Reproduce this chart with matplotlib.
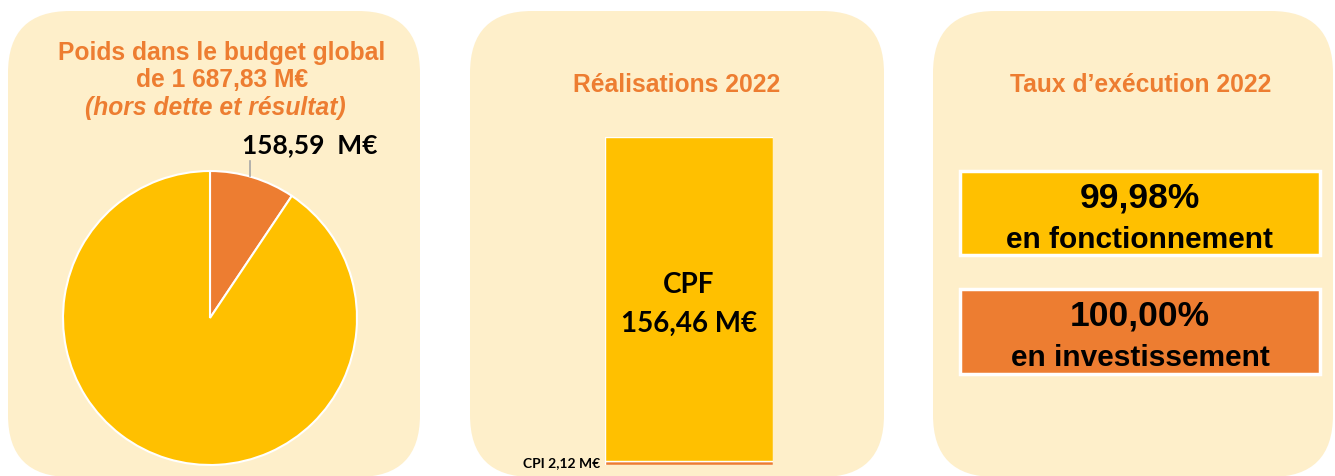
import matplotlib.pyplot as plt
from matplotlib.patches import FancyBboxPatch, Rectangle
import numpy as np

# ===================== données =====================
budget_global = 1687.83
pie_labels = ["Poids", "Reste"]
pie_values = [158.59, budget_global - 158.59]

bar_labels = ["CPI", "CPF"]
bar_values = [2.12, 156.46]

taux_labels = ["en fonctionnement", "en investissement"]
taux_values = [99.98, 100.00]

# ===================== style =====================
W, H = 1335, 477
YELLOW = "#FFC000"
ORANGE = "#ED7D31"
PANEL = "#FEEFCA"
TITLE_FONT = "Liberation Sans"
LABEL_FONT = "Lato"
TITLE_SIZE = 17.7


def fr(v, nd=2):
    return f"{v:.{nd}f}".replace(".", ",")


def px_axes(fig, x0, y0, x1, y1):
    # pixel box (top-left origin) -> axes in figure fraction
    return fig.add_axes([x0 / W, 1 - y1 / H, (x1 - x0) / W, (y1 - y0) / H])


fig = plt.figure(figsize=(W / 100, H / 100), dpi=100)
fig.patch.set_facecolor("white")

bg = fig.add_axes([0, 0, 1, 1])
bg.set_xlim(0, W)
bg.set_ylim(H, 0)
bg.axis("off")
bg.set_zorder(0)

for x0, x1 in [(8, 420), (470, 884), (933, 1333)]:
    bg.add_patch(FancyBboxPatch((x0, 12), x1 - x0, 478 - 12,
                                boxstyle="round,pad=0,rounding_size=62",
                                facecolor=PANEL, edgecolor="none"))

# titres
bg.text(222, 53, "Poids dans le budget global", ha="center", va="center",
        fontsize=TITLE_SIZE, fontweight="bold", color=ORANGE, family=TITLE_FONT)
bg.text(222, 80, f"de 1 {fr(budget_global)[1:]} M€", ha="center", va="center",
        fontsize=TITLE_SIZE, fontweight="bold", color=ORANGE, family=TITLE_FONT)
bg.text(215, 108, "(hors dette et résultat)", ha="center", va="center",
        fontsize=TITLE_SIZE, fontweight="bold", style="italic", color=ORANGE, family=TITLE_FONT)
bg.text(677, 85, "Réalisations 2022", ha="center", va="center",
        fontsize=TITLE_SIZE, fontweight="bold", color=ORANGE, family=TITLE_FONT)
bg.text(1141, 85, "Taux d’exécution 2022", ha="center", va="center",
        fontsize=TITLE_SIZE, fontweight="bold", color=ORANGE, family=TITLE_FONT)

# ===================== camembert =====================
cx, cy, r = 210, 319, 147
ax_pie = px_axes(fig, cx - r, cy - r, cx + r, cy + r)
wedges, _ = ax_pie.pie(pie_values, colors=[ORANGE, YELLOW], startangle=90,
                       counterclock=False, radius=1,
                       wedgeprops=dict(edgecolor="white", linewidth=1.5))
ax_pie.set_xlim(-1, 1)
ax_pie.set_ylim(-1, 1)
ax_pie.set_aspect("auto")
w = wedges[0]
mid = np.deg2rad((w.theta1 + w.theta2) / 2)
lx = np.cos(mid) - 0.02
ax_pie.plot([lx, lx], [np.sin(mid) + 0.01, 1.07], color="#A6A6A6", lw=1.2, clip_on=False)
ax_pie.text(lx - 0.05, 1.18, f"{fr(pie_values[0])}  M€", ha="left", va="center",
            fontsize=19, fontweight="bold", color="black", family=LABEL_FONT)

# ===================== barre empilée =====================
ax_bar = px_axes(fig, 605, 138, 773, 466)
ax_bar.bar([0], [bar_values[0]], width=1, color=ORANGE, edgecolor="white", linewidth=1)
ax_bar.bar([0], [bar_values[1]], bottom=[bar_values[0]], width=1, color=YELLOW,
           edgecolor="white", linewidth=1)
ax_bar.set_xlim(-0.5, 0.5)
ax_bar.set_ylim(0, sum(bar_values))
ax_bar.axis("off")
ax_bar.text(0, bar_values[0] + bar_values[1] * 0.545, bar_labels[1], ha="center", va="center",
            fontsize=20, fontweight="bold", family=LABEL_FONT)
ax_bar.text(0, bar_values[0] + bar_values[1] * 0.425, f"{fr(bar_values[1])} M€", ha="center",
            va="center", fontsize=20, fontweight="bold", family=LABEL_FONT)
ax_bar.text(-0.53, bar_values[0] / 2 + 0.5, f"{bar_labels[0]} {fr(bar_values[0])} M€",
            ha="right", va="center", fontsize=10, fontweight="bold", family=LABEL_FONT,
            clip_on=False)

# ===================== taux d'exécution =====================
boxes = [(172, 256, YELLOW), (290, 375, ORANGE)]
for (y0, y1, col), lab, val in zip(boxes, taux_labels, taux_values):
    bg.add_patch(Rectangle((960, y0), 360, y1 - y0, facecolor=col,
                           edgecolor="white", linewidth=2.5))
    bg.text(1140, y0 + 26, f"{fr(val)}%", ha="center", va="center",
            fontsize=25.5, fontweight="bold", family=TITLE_FONT)
    bg.text(1140, y0 + 68, lab, ha="center", va="center",
            fontsize=21.5, fontweight="bold", family=TITLE_FONT)

fig.savefig("out.png", dpi=100)
